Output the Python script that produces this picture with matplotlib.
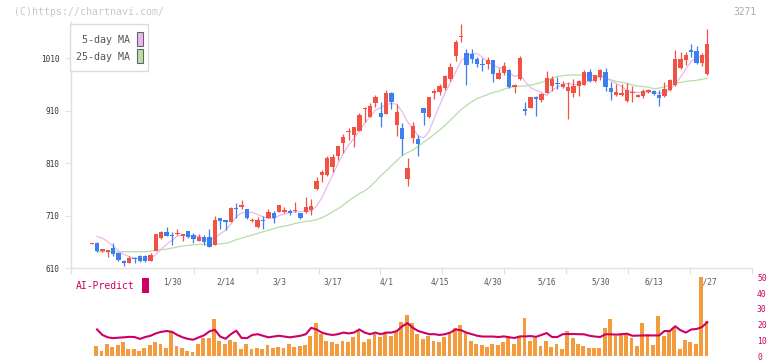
import matplotlib
matplotlib.use("Agg")
import matplotlib.pyplot as plt
from matplotlib.patches import Rectangle
import numpy as np

W, H = 772, 361

# --- data (trading days 2025/1/8 .. 6/27) ---
date_labels = ["1/30", "2/14", "3/3", "3/17", "4/1", "4/15", "4/30", "5/16", "5/30", "6/13", "6/27"]
date_label_idx = [15, 25, 35, 45, 55, 65, 75, 85, 95, 105, 115]

opens = [656.5, 657, 643, 641, 648, 639, 623.4, 620.2, 629.7, 632.9,
         632.9, 624, 642.4, 666.6, 678.1, 672.2, 674.2, 671, 680.6, 672.2,
         662.1, 668.5, 669.1, 653.9, 704.8, 701.5, 698.3, 723.8, 726.3, 722.5,
         700, 688.8, 702, 705.9, 714.3, 717.4, 717.4, 718.7, 719, 714.3,
         717.4, 720.6, 760, 787.4, 787.4, 803.2, 823.6, 847.8, 870, 863.7,
         872, 914, 898.6, 924.1, 906.2, 903.8, 944.5, 882.7, 876.5, 779.7,
         857.3, 855.4, 915.2, 898.6, 944.5, 946.4, 954, 970.5, 1014.3, 1050,
         1020.7, 1018.8, 1008.6, 999.6, 998.4, 1006.7, 970.5, 981.3, 988.2, 954.4,
         970.5, 912.7, 915.8, 936.1, 930.4, 944.5, 957.1, 963.5, 955.8, 948.3,
         944.5, 957.1, 959, 983.8, 966.7, 974.9, 983.8, 953.3, 940.7, 940.7,
         928.5, 943, 936.8, 938, 945.1, 948.3, 939.4, 938, 949.6, 959,
         992, 1006.7, 1025.8, 1023.3, 1001.6, 979.9]
highs = [658, 660, 647, 644.5, 657.7, 640.5, 625.3, 632.9, 631.6, 634,
         634, 639.2, 675, 681.2, 688.2, 678.7, 683.7, 674.5, 681.5, 677.5,
         674.8, 672.2, 684.4, 709.8, 705.5, 702, 726.9, 734.6, 739.7, 723,
         705.9, 707.2, 709.2, 721.9, 718.7, 730.5, 726.9, 721.9, 735.9, 715,
         745.9, 741.6, 784.2, 796.9, 823.6, 826.8, 843, 865, 877.7, 879.5,
         906.2, 917.7, 925.3, 939.4, 927.2, 949.6, 945, 922.9, 886, 820.4,
         889.1, 863.7, 915.5, 936.5, 951, 961, 979, 1001.6, 1044.9, 1075.4,
         1027.7, 1027.7, 1011.8, 1010.5, 1011.8, 1007, 990.9, 1003.5, 990, 960,
         1013.5, 926.6, 937, 938.7, 943, 985.7, 976.2, 974.9, 967.3, 964.8,
         969.9, 969.2, 987.6, 989.5, 978.5, 989.5, 991.5, 965.3, 961, 961,
         963.5, 957.7, 941.9, 951, 951, 949.6, 949.6, 965.3, 969.9, 1025.8,
         1022, 1022, 1037.2, 1034, 1020.6, 1065.8]
lows = [656, 640.5, 640, 631.6, 632.9, 624, 614.5, 620, 619, 622,
        621, 624, 642, 666, 671, 654.5, 673, 662.1, 667.5, 657,
        662, 654.5, 650.5, 653.5, 684.4, 682.5, 698, 705.9, 722.5, 702.8,
        697, 686.3, 684.4, 705, 695.1, 717, 714.3, 711.1, 716.2, 704,
        714.3, 711.1, 758.8, 774.6, 786, 793.7, 815.9, 830, 854.1, 841.4,
        871.5, 889.1, 898, 916.5, 879.6, 903.5, 912.7, 861.8, 825.5, 767,
        849, 823.6, 882.7, 897, 932.3, 940, 949.6, 966.7, 1005.4, 1040.5,
        959.8, 1001.6, 992.7, 985, 989.5, 965.4, 970, 978.1, 954, 944.5,
        969, 901.8, 915, 899.9, 926.6, 944, 947.6, 950.8, 953.9, 894.8,
        936.8, 938, 958.5, 965.5, 965.5, 968.6, 948.2, 930.4, 938.8, 938,
        927.5, 927.2, 935.5, 935, 944, 940, 919, 937, 948.3, 958,
        989, 997.2, 1011.8, 999.7, 995.9, 978.1]
closes = [657.5, 643, 646, 644.3, 636.7, 625.3, 620.2, 629.7, 627.8, 624,
          624, 634.8, 674.8, 679.3, 671.6, 670.3, 677.4, 674.2, 668.5, 665.3,
          669.8, 659.6, 650.7, 701.5, 700.2, 698.3, 723.8, 721.9, 730.2, 705.9,
          701.5, 701.5, 700.5, 716.8, 704.8, 729.6, 720.6, 715.5, 720.6, 704.8,
          726.9, 728, 776, 792.5, 820.4, 822.3, 842.7, 860.5, 872, 879,
          901.8, 916, 919, 936.8, 898.6, 944.5, 927.2, 907.5, 856.6, 801.3,
          880.8, 846.5, 906.2, 936.1, 948.3, 957.3, 976.2, 993.4, 1041, 1052,
          996.5, 1008.6, 998.4, 996.5, 1006.7, 979.4, 982.5, 995.3, 954.4, 959,
          1011, 909.4, 936.1, 931.6, 941.9, 971.8, 969.8, 960.3, 960.3, 955.2,
          957.1, 966.7, 983.8, 966.7, 978.1, 987.6, 955.8, 945.7, 946.4, 944.5,
          949.6, 944.5, 940, 948.3, 949.6, 941.9, 934.9, 950.8, 968.6, 1008,
          1008, 1016.3, 1022.6, 1000.3, 1016.3, 1037.2]

# moving averages, volume and AI-Predict start at the second day
ma5 = [670, 667, 660, 652, 643, 636, 632, 629, 627, 626,
       628, 636, 646, 655, 663, 671, 673, 672, 671, 670,
       667, 663, 668, 675, 682, 694, 708, 715, 716, 716,
       712, 707, 705, 705, 710, 713, 716, 717, 718, 718,
       719, 728, 744, 766, 787, 809, 828, 845, 857, 872,
       886, 899, 911, 916, 922, 924, 922, 908, 889, 876,
       862, 858, 870, 896, 920, 944, 963, 984, 1005, 1014,
       1019, 1019, 1012, 1003, 997, 992, 991, 983, 975, 979,
       965, 954, 949, 945, 939, 949, 955, 960, 962, 960,
       960, 964, 966, 970, 975, 974, 967, 962, 956, 949,
       946, 945, 945, 946, 945, 943, 945, 950, 961, 974,
       990, 1004, 1011, 1013, 1016]
ma25 = [641, 641, 641, 641, 641, 641, 641, 641, 641, 641,
        642, 644, 645, 646, 648, 650, 652, 653, 654, 655,
        655, 655, 656, 656, 657, 660, 664, 667, 670, 673,
        676, 679, 682, 685, 688, 690, 692, 695, 697, 699,
        700, 702, 706, 711, 717, 723, 730, 738, 745, 752,
        757, 765, 775, 786, 795, 805, 815, 824, 830, 835,
        842, 850, 857, 865, 873, 882, 892, 902, 912, 920,
        927, 933, 937, 941, 945, 947, 951, 954, 956, 957,
        957, 959, 961, 964, 968, 972, 975, 977, 978, 978,
        978, 978, 977, 976, 975, 972, 969, 966, 964, 962,
        959, 957, 956, 955, 952, 953, 956, 959, 962, 964,
        966, 967, 968, 970, 972]
volume = [6.3, 3.1, 7.5, 5.7, 6.9, 8.8, 4.4, 4.4, 3.1, 5.0,
          6.9, 8.8, 7.5, 5.0, 15.1, 6.3, 5.0, 3.1, 2.5, 7.5,
          11.3, 11.3, 23.5, 9.4, 7.5, 10.1, 8.8, 4.4, 7.5, 4.4,
          5, 4.5, 7, 5, 6, 5.5, 8, 6, 6.5, 7,
          13, 21, 14, 10, 9, 8, 10, 9, 12, 16,
          9, 11, 14, 12, 15, 13, 16, 22, 26, 21,
          14, 11, 13, 10, 9, 12, 14, 18, 20, 15,
          10, 8, 7, 6, 8, 7, 8.8, 12.6, 7.5, 12.6,
          24.5, 9.4, 11.3, 6.3, 9.4, 5.7, 7.5, 4.4, 16.3, 11.3,
          7.5, 6.3, 5.0, 5.0, 5.0, 18.2, 23.3, 12.6, 13.2, 13.8,
          11.3, 6.3, 20.8, 13.8, 6.9, 25.2, 12.6, 15.7, 17.6, 4.4,
          10.1, 8.8, 7.5, 50, 22.6]
ai_predict = [17, 13.5, 12, 11.5, 11.8, 12, 12.3, 12.2, 11, 12.2,
              13, 14.5, 15.5, 16, 15.5, 13.5, 12, 11, 10.5, 12,
              13.3, 15.8, 16.8, 12.5, 11.1, 14, 16.2, 11.6, 11.5, 13.5,
              14, 13, 12, 12.5, 13, 12.5, 12, 12.5, 13, 14,
              18, 17, 15, 14, 13.5, 14, 15, 14.5, 15, 17,
              15, 14, 15, 14, 15, 15, 16, 19, 21, 18,
              16, 15, 14, 14, 13.5, 14, 15, 17, 16.5, 15,
              14, 13, 12.5, 12.5, 12.5, 12.2, 12.6, 12, 11.6, 12.6,
              12.6, 12.8, 12.3, 13.5, 14.7, 12.2, 12.2, 14, 14.1, 14.1,
              14, 13.9, 13, 12.5, 12.2, 14, 13.9, 13.7, 14, 14.3,
              13, 13.1, 13.2, 13.2, 13.2, 13.2, 16, 16, 19, 16.5,
              15, 17, 17.3, 18.5, 21.6]
price_ticks = [610, 710, 810, 910, 1010]
sub_ticks = [0, 10, 20, 30, 40, 50]

MONO = "DejaVu Sans Mono"
RED, BLUE = "#f25243", "#3c7ff0"
AXC = "#e0e0e0"

# pixel layout of the reference
X0, STEP = 91.7, 5.353          # centre of first candle, px per day
LEFT, RIGHT = 71, 752


def fx(px):
    return px / W


def fy(py):
    return 1 - py / H


def day(px):
    return (px - X0) / STEP


fig = plt.figure(figsize=(W / 100, H / 100), dpi=100)
fig.patch.set_facecolor("white")

# ---------------- price panel ----------------
top, bottom = 22, 268
ax = fig.add_axes([fx(LEFT), fy(bottom), (RIGHT - LEFT) / W, (bottom - top) / H])
ax.set_xlim(day(LEFT), day(RIGHT))
ax.set_ylim(610, 610 + (bottom - top) / 0.5243)

o = np.array(opens)
c = np.array(closes)
x = np.arange(len(c))
cols = [RED if cc >= oo else BLUE for oo, cc in zip(o, c)]

xm = np.arange(1, len(c))
ax.plot(xm, ma25, color="#b7dea6", lw=0.9, zorder=1)
ax.plot(xm, ma5, color="#eab8ee", lw=0.9, zorder=1)

ax.vlines(x, lows, highs, colors=cols, linewidth=0.9, zorder=2)
ax.bar(x, np.maximum(np.abs(c - o), 1.8), bottom=np.minimum(o, c),
       width=0.82, color=cols, linewidth=0, zorder=3)

for s in ["top", "right"]:
    ax.spines[s].set_visible(False)
for s in ["left", "bottom"]:
    ax.spines[s].set_color(AXC)
    ax.spines[s].set_linewidth(1.0)

ax.set_yticks(price_ticks)
ax.set_yticklabels([str(v) for v in price_ticks], fontfamily=MONO, fontsize=5.6, color="#333333")
ax.tick_params(axis="y", direction="out", length=4.3, width=0.8, color=AXC, pad=4.1)

grid_px = [71, 194, 257, 319, 380, 442, 504, 566, 628, 690, 752]
ax.set_xticks([day(p) for p in grid_px])
ax.set_xticklabels([])
ax.tick_params(axis="x", direction="out", length=4.5, width=0.8, color=AXC)

lab_y = -(282 - bottom) / (bottom - top)
for lab, i in zip(date_labels, date_label_idx):
    ax.text(i, lab_y, lab, transform=ax.get_xaxis_transform(), ha="center", va="center",
            fontfamily=MONO, fontsize=5.6, color="#555555", clip_on=False)

# legend box
fig.add_artist(Rectangle((fx(70), fy(71)), 78 / W, 47 / H, transform=fig.transFigure,
                         facecolor="white", edgecolor="#dddddd", lw=1.0, zorder=5))
fig.text(fx(129.5), fy(40), "5-day MA", ha="right", va="center", fontfamily=MONO,
         fontsize=7.2, color="#555555", zorder=6)
fig.text(fx(129.5), fy(57), "25-day MA", ha="right", va="center", fontfamily=MONO,
         fontsize=7.2, color="#555555", zorder=6)
fig.add_artist(Rectangle((fx(136.5), fy(46)), 6 / W, 14.5 / H, transform=fig.transFigure,
                         facecolor="#eab8ee", edgecolor="#666666", lw=0.8, zorder=6))
fig.add_artist(Rectangle((fx(136.5), fy(63)), 6 / W, 14.5 / H, transform=fig.transFigure,
                         facecolor="#b7dea6", edgecolor="#666666", lw=0.8, zorder=6))

fig.text(fx(14), fy(12), "(C)https://chartnavi.com/", ha="left", va="center",
         fontfamily=MONO, fontsize=7.1, color="#c8c8c8")
fig.text(fx(756), fy(12), "3271", ha="right", va="center",
         fontfamily=MONO, fontsize=6.9, color="#aaaaaa")

# ---------------- AI-Predict / volume panel ----------------
sub_top, sub_bot = 277.3, 356.3
ax2 = fig.add_axes([fx(LEFT), fy(sub_bot), (RIGHT - LEFT) / W, (sub_bot - sub_top) / H])
ax2.patch.set_visible(False)
ax2.set_xlim(day(LEFT), day(RIGHT))
ax2.set_ylim(0, 50)
ax2.bar(xm - 0.16, volume, width=0.72, color="#f39b3d", linewidth=0, zorder=1)
ax2.plot(xm, ai_predict, color="#cc0066", lw=1.5, zorder=2)
for s in ax2.spines.values():
    s.set_visible(False)
ax2.set_xticks([])
ax2.yaxis.tick_right()
ax2.set_yticks(sub_ticks)
ax2.set_yticklabels([str(v) for v in sub_ticks], fontfamily=MONO, fontsize=5.8, color="#cc0066")
ax2.tick_params(axis="y", length=0, pad=3.6)

fig.text(fx(76), fy(286), "AI-Predict", ha="left", va="center",
         fontfamily=MONO, fontsize=7.05, color="#cc0066")
fig.add_artist(Rectangle((fx(142), fy(293)), 6.5 / W, 15.5 / H, transform=fig.transFigure,
                         facecolor="#cc0066", edgecolor="none"))

fig.savefig("out.png", dpi=100)
